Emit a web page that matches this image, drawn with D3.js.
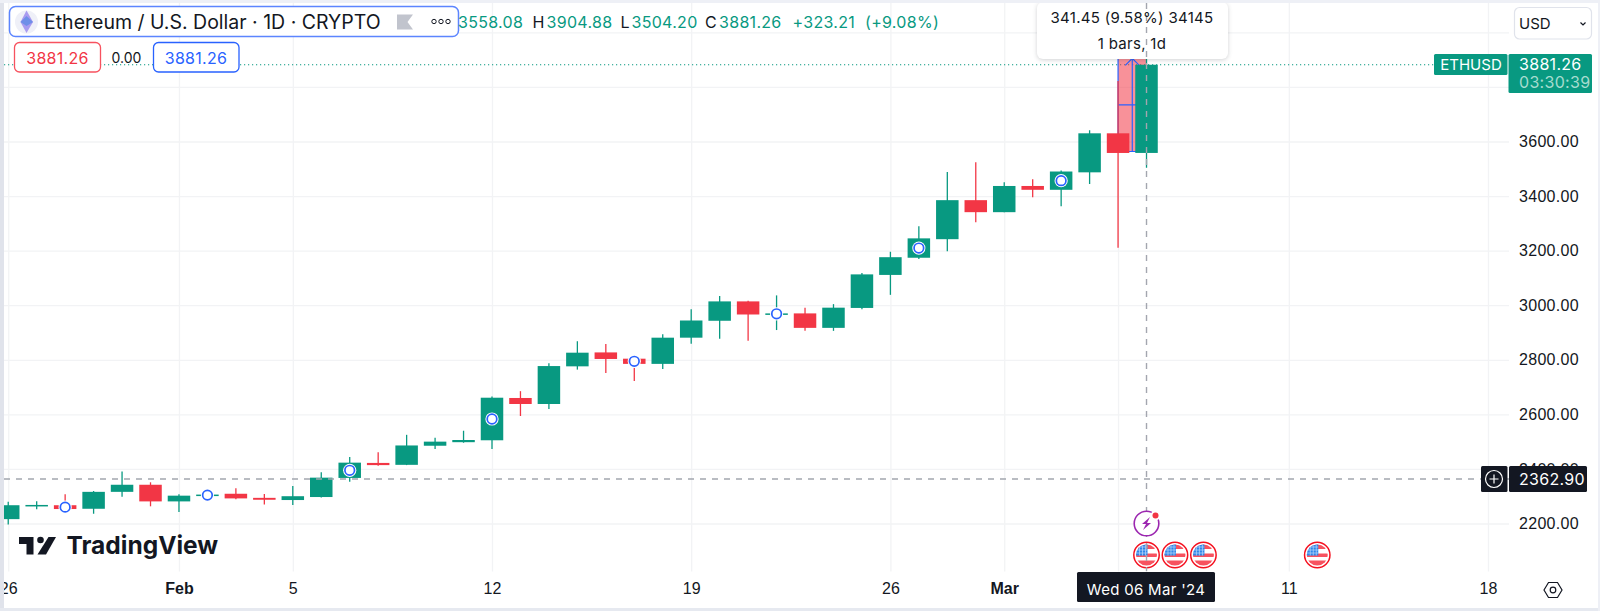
<!DOCTYPE html>
<html>
<head>
<meta charset="utf-8">
<script src="https://cdn.jsdelivr.net/npm/d3@7"></script>
<style>
  html, body { margin: 0; padding: 0; background: #fff; }
  svg { display: block; font-family: Inter, "Noto Sans", sans-serif; }
  .domain { display: none; }
  .num { letter-spacing: 0.3px; }
</style>
</head>
<body>
<div id="chart"></div>
<script>
const days = [
  '2024-01-26','2024-01-27','2024-01-28','2024-01-29','2024-01-30','2024-01-31',
  '2024-02-01','2024-02-02','2024-02-03','2024-02-04','2024-02-05','2024-02-06','2024-02-07','2024-02-08','2024-02-09','2024-02-10',
  '2024-02-11','2024-02-12','2024-02-13','2024-02-14','2024-02-15','2024-02-16','2024-02-17','2024-02-18','2024-02-19','2024-02-20',
  '2024-02-21','2024-02-22','2024-02-23','2024-02-24','2024-02-25','2024-02-26','2024-02-27','2024-02-28','2024-02-29',
  '2024-03-01','2024-03-02','2024-03-03','2024-03-04','2024-03-05','2024-03-06'
];
const opens = [2216,2266,2267,2254,2316,2342,2281,2302,2309,2294,2286,2297,2367,2422,2415,2485,2498,2505,2660,2638,2776,2827,2804,2785,2881,2943,3014,2967,2970,2917,2990,3111,3174,3242,3385,3341,3437,3423,3487,3630,3558.08];
const highs = [2280,2282,2307,2319,2391,2351,2307,2315,2329,2308,2337,2388,2444,2461,2525,2514,2540,2665,2685,2787,2868,2858,2807,2894,2985,3034,3016,3036,2991,3004,3118,3196,3289,3488,3524,3451,3462,3494,3641,3822,3904.88];
const lows = [2196,2252,2245,2236,2298,2263,2242,2295,2289,2270,2268,2295,2353,2412,2414,2473,2496,2473,2594,2620,2764,2752,2722,2766,2859,2877,2870,2909,2906,2906,2985,3038,3169,3198,3304,3341,3396,3363,3444,3211,3504.2];
const closes = [2267,2268,2253,2316,2342,2281,2302,2306,2292,2287,2300,2368,2423,2414,2486,2500,2506,2661,2638,2777,2826,2803,2785,2881,2944,3014,2966,2970,2917,2991,3113,3176,3245,3385,3341,3437,3423,3490,3630,3558,3881.26];

const markerDays = ['2024-01-28','2024-02-02','2024-02-07','2024-02-12','2024-02-17','2024-02-22','2024-02-27','2024-03-03'];
const flagDays = ['2024-03-06','2024-03-07','2024-03-08','2024-03-12'];
const lightningDay = '2024-03-06';

const priceTicks = [2200,2400,2600,2800,3000,3200,3400,3600,3800,4000];
const hiddenPriceLabels = [3800,4000]; // sit under the USD box and the last price label
const timeTicks = ['2024-01-26','2024-02-01','2024-02-05','2024-02-12','2024-02-19','2024-02-26','2024-03-01','2024-03-05','2024-03-11','2024-03-18'];
const timeLabels = ['26','Feb','5','12','19','26','Mar','','11','18'];
const boldLabels = ['Feb','Mar'];

const lastPrice = 3881.26;
const crossPrice = 2362.90;
const crossDay = '2024-03-06';
const measureDays = ['2024-03-05','2024-03-06'];
const measurePrices = [3563.43,3904.88];

const legendParts = [
  ['3558.08',458,'#089981'],['H',532.5,'#131722'],['3904.88',546.5,'#089981'],
  ['L',620.5,'#131722'],['3504.20',631.5,'#089981'],['C',705,'#131722'],
  ['3881.26',719,'#089981'],['+323.21',792.5,'#089981'],['(+9.08%)',865,'#089981']
];

const green = '#089981', red = '#f23645', blue = '#2962ff', ink = '#131722', gridColor = '#f2f3f5', crossColor = '#a3a6af';
const W = 1600, H = 611;
const plotLeft = 4, plotRight = 1509, plotBottom = 571.5;

const parseDay = d3.utcParse('%Y-%m-%d');
const x = d3.scaleUtc().domain([parseDay('2024-02-12'), parseDay('2024-03-18')]).range([492, 1488]);
const y = d3.scaleLinear().domain([2200, 3600]).range([523.5, 141.5]);
const xd = s => x(parseDay(s));

const candles = days.map((d, i) => ({ d, o: opens[i], h: highs[i], l: lows[i], c: closes[i] }));

const svg = d3.select('#chart').append('svg').attr('width', W).attr('height', H);
svg.append('defs').append('clipPath').attr('id', 'plotClip')
  .append('rect').attr('x', plotLeft).attr('y', 3).attr('width', plotRight - plotLeft).attr('height', plotBottom - 3);
svg.select('defs').append('clipPath').attr('id', 'flagClip')
  .append('circle').attr('r', 10.5);

// grid
const gridY = svg.append('g').attr('transform', `translate(${plotLeft},0)`)
  .call(d3.axisRight(y).tickValues(priceTicks).tickSize(plotRight - plotLeft).tickFormat(''));
const gridX = svg.append('g').attr('transform', `translate(0,${plotBottom})`)
  .call(d3.axisTop(x).tickValues(timeTicks.map(parseDay)).tickSize(plotBottom - 3).tickFormat(''));
gridY.selectAll('line').attr('stroke', gridColor).attr('stroke-width', 1.3);
gridX.selectAll('line').attr('stroke', gridColor).attr('stroke-width', 1.3);

// price axis
const yAxis = svg.append('g').attr('transform', 'translate(1519,0)')
  .call(d3.axisRight(y).tickValues(priceTicks).tickSize(0).tickPadding(0)
    .tickFormat(d => hiddenPriceLabels.includes(d) ? '' : d3.format('.2f')(d)));
yAxis.selectAll('text').attr('class', 'num').attr('fill', ink).attr('font-size', 16);

// time axis
const xAxis = svg.append('g').attr('transform', 'translate(0,583)')
  .call(d3.axisBottom(x).tickValues(timeTicks.map(parseDay)).tickSize(0).tickPadding(0)
    .tickFormat((d, i) => timeLabels[i]));
xAxis.selectAll('text').attr('fill', ink).attr('font-size', 16).attr('dy', '0.71em')
  .attr('font-weight', function() { return boldLabels.includes(d3.select(this).text()) ? 700 : 400; });

const plot = svg.append('g').attr('clip-path', 'url(#plotClip)');

// last price line
plot.append('line').attr('x1', plotLeft).attr('x2', 1434).attr('y1', y(lastPrice)).attr('y2', y(lastPrice))
  .attr('stroke', green).attr('stroke-width', 1.2).attr('stroke-dasharray', '1.2 2.8');

// measure tool
const mx0 = xd(measureDays[0]), mx1 = xd(measureDays[1]), mmid = (mx0 + mx1) / 2;
const my0 = y(measurePrices[0]), my1 = y(measurePrices[1]), mymid = (my0 + my1) / 2;
plot.append('rect').attr('x', mx0).attr('y', my1).attr('width', mx1 - mx0).attr('height', my0 - my1)
  .attr('fill', red).attr('fill-opacity', 0.55);
const measureLines = [
  [mx0, my1, mx1, my1], [mx0, my1, mx0, my0], [mx0, my0, mx1, my0],
  [mmid, my1, mmid, my0], [mx0, mymid, mx1, mymid]
];
plot.selectAll('.measure').data(measureLines).join('line').attr('class', 'measure')
  .attr('x1', d => d[0]).attr('y1', d => d[1]).attr('x2', d => d[2]).attr('y2', d => d[3])
  .attr('stroke', blue).attr('stroke-width', 1.2);
plot.append('path').attr('d', d3.line()([[mmid - 7, my1 + 7], [mmid, my1], [mmid + 7, my1 + 7]]))
  .attr('fill', 'none').attr('stroke', blue).attr('stroke-width', 1.2);

// candles
const colorOf = d => d.c >= d.o ? green : red;
const bodyW = 22.5;
plot.selectAll('.wick').data(candles).join('line').attr('class', 'wick')
  .attr('x1', d => xd(d.d)).attr('x2', d => xd(d.d))
  .attr('y1', d => y(d.h)).attr('y2', d => y(d.l))
  .attr('stroke', colorOf).attr('stroke-width', 1.3);
plot.selectAll('.body').data(candles).join('rect').attr('class', 'body')
  .attr('x', d => xd(d.d) - bodyW / 2).attr('width', bodyW)
  .attr('y', d => Math.min(y(d.o), y(d.c)))
  .attr('height', d => Math.max(1.5, Math.abs(y(d.o) - y(d.c))))
  .attr('fill', colorOf);

// circle markers on candles
const byDay = new Map(candles.map(d => [d.d, d]));
const markerY = d => y((byDay.get(d).o + byDay.get(d).c) / 2);
plot.selectAll('.halo').data(markerDays).join('circle').attr('class', 'halo')
  .attr('cx', d => xd(d)).attr('cy', markerY)
  .attr('r', 6.6).attr('fill', '#fff');
plot.selectAll('.marker').data(markerDays).join('circle').attr('class', 'marker')
  .attr('cx', d => xd(d)).attr('cy', markerY)
  .attr('r', 4.8).attr('fill', '#fff').attr('stroke', blue).attr('stroke-width', 1.7);

// economic calendar flags
const flag = plot.selectAll('.flag').data(flagDays).join('g').attr('class', 'flag')
  .attr('transform', d => `translate(${xd(d)},555)`);
flag.append('circle').attr('r', 12.7).attr('fill', '#fff').attr('stroke', '#f5101f').attr('stroke-width', 1.5);
const flagInner = flag.append('g').attr('clip-path', 'url(#flagClip)');
flagInner.append('rect').attr('x', -11).attr('y', -11).attr('width', 22).attr('height', 22).attr('fill', '#fff');
[[-11, 5], [-1.5, 3.5], [5.5, 6]].forEach(s => {
  flagInner.append('rect').attr('x', -11).attr('y', s[0]).attr('width', 22).attr('height', s[1]).attr('fill', '#f7525f');
});
flagInner.append('rect').attr('x', -11).attr('y', -11).attr('width', 12).attr('height', 11.5).attr('fill', '#2e86ea');
[-7, -4, -1, -8, -5, -2].forEach((v, i) => {
  if (i < 3) flagInner.append('line').attr('x1', v).attr('x2', v).attr('y1', -11).attr('y2', 0.5).attr('stroke', '#bcd9f8').attr('stroke-width', 0.7);
  else flagInner.append('line').attr('x1', -11).attr('x2', 1).attr('y1', v).attr('y2', v).attr('stroke', '#bcd9f8').attr('stroke-width', 0.7);
});

// crosshair
const crossX = xd(crossDay), crossY = y(crossPrice);
plot.append('line').attr('x1', plotLeft).attr('x2', plotRight).attr('y1', crossY).attr('y2', crossY)
  .attr('stroke', crossColor).attr('stroke-width', 1.4).attr('stroke-dasharray', '6 6');
plot.append('line').attr('x1', crossX).attr('x2', crossX).attr('y1', 3).attr('y2', plotBottom)
  .attr('stroke', crossColor).attr('stroke-width', 1.4).attr('stroke-dasharray', '6 6');

// lightning event
const bolt = svg.append('g').attr('transform', `translate(${xd(lightningDay)},523.5)`);
bolt.append('circle').attr('r', 12.3).attr('fill', '#fff').attr('stroke', '#9c27b0').attr('stroke-width', 1.6);
bolt.append('path').attr('d', 'M3.5,-6.5 L-4.5,0.5 L-0.5,0.5 L-3.5,6.5 L4.5,-0.5 L0.5,-0.5 Z').attr('fill', '#9c27b0');
bolt.append('circle').attr('cx', 9).attr('cy', -8).attr('r', 5).attr('fill', '#fff');
bolt.append('circle').attr('cx', 9).attr('cy', -8).attr('r', 3).attr('fill', red);

// tooltip
svg.append('rect').attr('x', 1037).attr('y', 2).attr('width', 191).attr('height', 57).attr('rx', 6)
  .attr('fill', '#fff').style('filter', 'drop-shadow(0 1px 2px rgba(19,23,34,0.2))');
svg.append('line').attr('x1', crossX).attr('x2', crossX).attr('y1', 3).attr('y2', 59)
  .attr('stroke', crossColor).attr('stroke-width', 1.4).attr('stroke-dasharray', '6 6');
svg.append('text').attr('class', 'num').attr('x', 1132).attr('y', 17.7).attr('dy', '0.35em').attr('text-anchor', 'middle')
  .attr('font-size', 15).attr('fill', ink).text('341.45 (9.58%) 34145');
svg.append('text').attr('class', 'num').attr('x', 1132).attr('y', 43.5).attr('dy', '0.35em').attr('text-anchor', 'middle')
  .attr('font-size', 15).attr('fill', ink).text('1 bars, 1d');

// legend row
svg.append('rect').attr('x', 9.5).attr('y', 6.5).attr('width', 449).attr('height', 30).attr('rx', 6)
  .attr('fill', '#fff').attr('stroke', '#5c85ff').attr('stroke-width', 1.5);
svg.append('circle').attr('cx', 26.5).attr('cy', 22).attr('r', 11.5).attr('fill', '#eff0f8');
svg.append('path').attr('d', 'M26.5,10.5 L33,22 L26.5,33 L20.5,22 Z').attr('fill', '#a99bf0');
svg.append('path').attr('d', 'M26.5,16 L33,22 L26.5,26 L20.5,22 Z').attr('fill', '#6f8fe8');
svg.append('text').attr('x', 44).attr('y', 22.5).attr('dy', '0.35em').attr('font-size', 19.5).attr('fill', ink)
  .text('Ethereum / U.S. Dollar \u00b7 1D \u00b7 CRYPTO');
svg.append('path').attr('d', 'M397,14.5 H413 L407.5,22 L413,29.5 H397 Z').attr('fill', '#c1c4cd');
[434, 441, 448].forEach(cx => {
  svg.append('circle').attr('cx', cx).attr('cy', 21.5).attr('r', 2.2).attr('fill', 'none').attr('stroke', ink).attr('stroke-width', 1);
});
svg.selectAll('.legendPart').data(legendParts).join('text').attr('class', 'legendPart num')
  .attr('x', d => d[1]).attr('y', 22.5).attr('dy', '0.35em').attr('font-size', 16).attr('fill', d => d[2]).text(d => d[0]);

// bid / ask row
svg.append('rect').attr('x', 14.5).attr('y', 42.5).attr('width', 86).attr('height', 29.5).attr('rx', 5)
  .attr('fill', '#fff').attr('stroke', '#f7525f').attr('stroke-width', 1.3);
svg.append('text').attr('class', 'num').attr('x', 57.5).attr('y', 58).attr('dy', '0.35em').attr('text-anchor', 'middle')
  .attr('font-size', 16).attr('fill', red).text('3881.26');
svg.append('text').attr('x', 126.5).attr('y', 58).attr('dy', '0.35em').attr('text-anchor', 'middle')
  .attr('font-size', 14).attr('fill', ink).text('0.00');
svg.append('rect').attr('x', 153.5).attr('y', 42.5).attr('width', 85.5).attr('height', 29.5).attr('rx', 5)
  .attr('fill', '#fff').attr('stroke', blue).attr('stroke-width', 1.3);
svg.append('text').attr('class', 'num').attr('x', 196).attr('y', 58).attr('dy', '0.35em').attr('text-anchor', 'middle')
  .attr('font-size', 16).attr('fill', blue).text('3881.26');

// right side labels
svg.append('rect').attr('x', 1514.5).attr('y', 7.5).attr('width', 77).attr('height', 31.5).attr('rx', 5)
  .attr('fill', '#fff').attr('stroke', '#e0e3eb').attr('stroke-width', 1.2);
svg.append('text').attr('x', 1519).attr('y', 23.5).attr('dy', '0.35em').attr('font-size', 15).attr('fill', ink).text('USD');
svg.append('path').attr('d', 'M1580.5,22.5 L1583,25 L1585.5,22.5').attr('fill', 'none').attr('stroke', ink).attr('stroke-width', 1.2);

svg.append('rect').attr('x', 1434).attr('y', 54).attr('width', 73.5).attr('height', 21).attr('rx', 1.5).attr('fill', green);
svg.append('text').attr('x', 1471).attr('y', 64.7).attr('dy', '0.35em').attr('text-anchor', 'middle')
  .attr('font-size', 15).attr('fill', '#fff').text('ETHUSD');
svg.append('rect').attr('x', 1508.5).attr('y', 54).attr('width', 83.5).attr('height', 39).attr('rx', 1.5).attr('fill', green);
svg.append('text').attr('class', 'num').attr('x', 1519).attr('y', 64.7).attr('dy', '0.35em')
  .attr('font-size', 16).attr('fill', '#fff').text('3881.26');
svg.append('text').attr('class', 'num').attr('x', 1519).attr('y', 82.7).attr('dy', '0.35em')
  .attr('font-size', 16).attr('fill', '#a6dccf').text('03:30:39');

// crosshair labels
svg.append('rect').attr('x', 1481).attr('y', 466).attr('width', 26.5).attr('height', 26).attr('rx', 1.5).attr('fill', ink);
svg.append('circle').attr('cx', 1494).attr('cy', 479).attr('r', 8.5).attr('fill', 'none').attr('stroke', '#fff').attr('stroke-width', 1.2);
svg.append('path').attr('d', 'M1489.5,479 H1498.5 M1494,474.5 V483.5').attr('stroke', '#fff').attr('stroke-width', 1.2);
svg.append('rect').attr('x', 1509).attr('y', 466).attr('width', 78).attr('height', 26).attr('rx', 1.5).attr('fill', ink);
svg.append('text').attr('class', 'num').attr('x', 1519).attr('y', 479).attr('dy', '0.35em')
  .attr('font-size', 16).attr('fill', '#fff').text(d3.format('.2f')(crossPrice));
svg.append('rect').attr('x', 1077).attr('y', 572).attr('width', 138).attr('height', 30).attr('rx', 1.5).attr('fill', ink);
svg.append('text').attr('class', 'num').attr('x', 1146).attr('y', 589.5).attr('dy', '0.35em').attr('text-anchor', 'middle')
  .attr('font-size', 15).attr('fill', '#fff').text(d3.utcFormat("%a %d %b '%y")(parseDay(crossDay)));

// settings icon
svg.append('path').attr('d', 'M1544,590 L1548.5,582.5 H1557.5 L1562,590 L1557.5,597.5 H1548.5 Z')
  .attr('fill', 'none').attr('stroke', ink).attr('stroke-width', 1.2);
svg.append('circle').attr('cx', 1553).attr('cy', 590).attr('r', 2.8).attr('fill', 'none').attr('stroke', ink).attr('stroke-width', 1.2);

// TradingView logo
const logo = svg.append('g').attr('fill', ink);
logo.append('path').attr('d', 'M19,537 H33.5 V554.5 H26.5 V544 H19 Z');
logo.append('circle').attr('cx', 40.5).attr('cy', 540).attr('r', 3.3);
logo.append('path').attr('d', 'M48.5,537 H56 L46,554.5 H37.5 Z');
logo.append('text').attr('x', 66.5).attr('y', 554).attr('font-size', 24.5).attr('font-weight', 700).text('TradingView');

// page frame
svg.append('rect').attr('x', 0).attr('y', 0).attr('width', 4).attr('height', H).attr('fill', '#e0e3eb');
svg.append('rect').attr('x', 0).attr('y', 0).attr('width', W).attr('height', 3).attr('fill', '#eef0f6');
svg.append('rect').attr('x', 0).attr('y', 608).attr('width', W).attr('height', 3).attr('fill', '#e6e9f0');
svg.append('rect').attr('x', 1598).attr('y', 0).attr('width', 2).attr('height', H).attr('fill', '#eef0f6');
</script>
</body>
</html>
